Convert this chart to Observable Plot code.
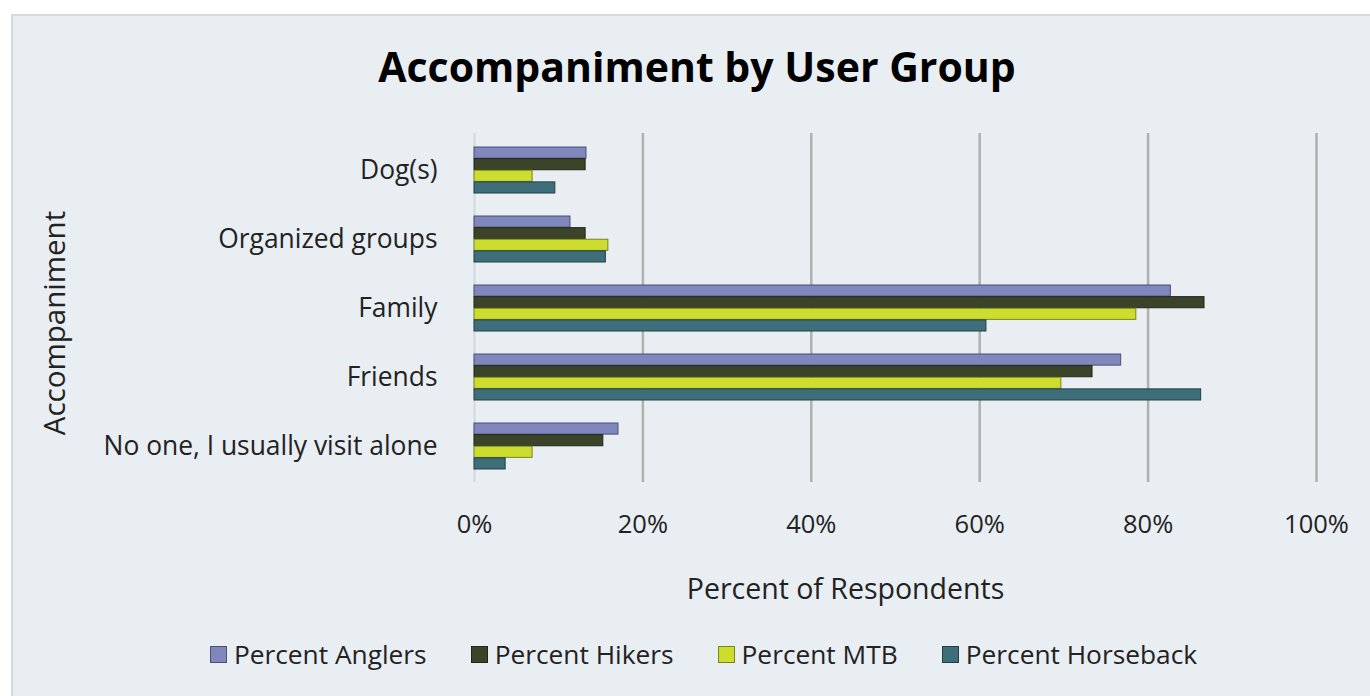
<!DOCTYPE html>
<html>
<head>
<meta charset="utf-8">
<script src="https://cdn.jsdelivr.net/npm/d3@7"></script>
<script src="https://cdn.jsdelivr.net/npm/@observablehq/plot@0.6"></script>
<style>
  html, body { margin: 0; padding: 0; background: #ffffff; width: 1370px; height: 696px; overflow: hidden; }
  #frame { position: absolute; left: 11px; top: 14px; width: 1380px; height: 700px; background: #e9eef3; border: 2px solid #d9d9d9; box-sizing: border-box; }
  #title { position: absolute; left: 0; width: 1394px; top: 38px; text-align: center; font-family: "Open Sans", sans-serif; font-weight: 700; font-size: 41px; color: #000; }
  #chart { position: absolute; left: 0; top: 100px; }
  #legend { position: absolute; left: 0; width: 1407px; top: 636px; display: flex; justify-content: center; gap: 44px; font-family: "Open Sans", sans-serif; font-size: 26.3px; color: #222; }
  .item { display: flex; align-items: center; gap: 7px; }
  .sw { width: 17px; height: 17px; box-sizing: border-box; border: 1.5px solid #555; }
</style>
</head>
<body>
<div id="frame"></div>
<div id="title">Accompaniment by User Group</div>
<div id="chart"></div>
<div id="legend"></div>
<script>
const categories = ["Dog(s)", "Organized groups", "Family", "Friends", "No one, I usually visit alone"];
const seriesNames = ["Percent Anglers", "Percent Hikers", "Percent MTB", "Percent Horseback"];
const anglers   = [13.3, 11.4, 82.7, 76.8, 17.1];
const hikers    = [13.2, 13.2, 86.7, 73.4, 15.3];
const mtb       = [6.9, 15.9, 78.6, 69.7, 6.9];
const horseback = [9.6, 15.6, 60.8, 86.3, 3.7];
const seriesValues = [anglers, hikers, mtb, horseback];
const fills   = ["#7f87bd", "#3b4429", "#cddd2e", "#3e6e7a"];
const strokes = ["#4a4f73", "#22271a", "#7a8420", "#233f46"];
const xTicks = [0, 20, 40, 60, 80, 100];
const gridTicks = [20, 40, 60, 80, 100];
const xLabel = "Percent of Respondents";
const yLabel = "Accompaniment";

const bandwidth = 46.5; // approx from y scale
const sub = bandwidth / 4;

const barMarks = seriesValues.map((vals, i) => {
  const data = categories.map((c, j) => ({category: c, value: vals[j], series: seriesNames[i]}));
  return Plot.barX(data, {
    y: "category", x: "value",
    fill: fills[i], stroke: strokes[i], strokeWidth: 1,
    insetTop: i * sub, insetBottom: (3 - i) * sub
  });
});

const plot = Plot.plot({
  width: 1370,
  height: 520,
  marginTop: 33,
  marginBottom: 138,
  marginLeft: 474,
  marginRight: 54,
  style: { background: "transparent", fontFamily: "'Open Sans', sans-serif", fontSize: "26px", color: "#222" },
  x: { domain: [0, 100], range: [474, 1316], ticks: xTicks, tickFormat: d => d + "%", label: null },
  y: { domain: categories, paddingInner: 0.34, paddingOuter: 0.17, label: null },
  marks: [
    Plot.ruleX([0], { stroke: "#d4d7da", strokeWidth: 2 }),
    Plot.ruleX(gridTicks, { stroke: "#aeb2ad", strokeWidth: 2.5 }),
    ...barMarks,
    Plot.axisX({ ticks: xTicks, tickFormat: d => d + "%", tickSize: 0, tickPadding: 32, fontSize: 25.5, label: null }),
    Plot.axisY({ tickSize: 0, tickPadding: 37, fontSize: 26.4, label: null }),
    Plot.text([xLabel], { text: d => d, frameAnchor: "bottom", dx: -50, dy: 116, fontSize: 28.5, fill: "#222" }),
    Plot.text([yLabel], { text: d => d, frameAnchor: "left", textAnchor: "middle", rotate: -90, dx: -419, dy: 15, fontSize: 29.5, fill: "#222" })
  ]
});
document.getElementById("chart").appendChild(plot);

const legend = document.getElementById("legend");
seriesNames.forEach((s, i) => {
  const item = document.createElement("div");
  item.className = "item";
  const sw = document.createElement("div");
  sw.className = "sw";
  sw.style.background = fills[i];
  sw.style.borderColor = strokes[i];
  const lab = document.createElement("span");
  lab.textContent = s;
  item.appendChild(sw); item.appendChild(lab);
  legend.appendChild(item);
});
</script>
</body>
</html>
